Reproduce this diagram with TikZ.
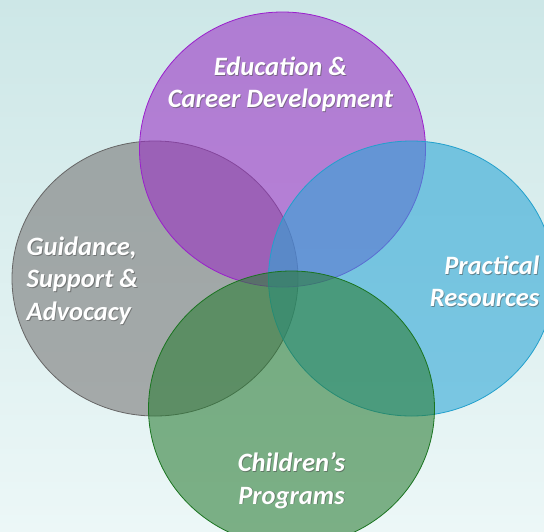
\documentclass[tikz,border=0pt]{standalone}
\usepackage{fontspec}
\setmainfont{Carlito}
\usetikzlibrary{shapes.geometric}
\definecolor{bgtop}{HTML}{CDE7E7}
\definecolor{bgbot}{HTML}{ECF7F7}
\definecolor{pfill}{HTML}{9A30C4}
\definecolor{pline}{HTML}{9A1FCC}
\definecolor{gfill}{HTML}{767474}
\definecolor{gline}{HTML}{666666}
\definecolor{bfill}{HTML}{2CA6D6}
\definecolor{bline}{HTML}{22A0CC}
\definecolor{nfill}{HTML}{2A7C34}
\definecolor{nline}{HTML}{1A7420}
\tikzset{
  venn/.style={ellipse, minimum width=286pt, minimum height=275pt, inner sep=0pt, line width=0.8pt, fill opacity=0.58, draw opacity=1},
  lbl/.style={font=\fontsize{26.5}{32.5}\selectfont\bfseries\itshape, text=white, inner sep=0pt},
  shd/.style={font=\fontsize{26.5}{32.5}\selectfont\bfseries\itshape, text=black!70, text opacity=0.55, inner sep=0pt},
}
\begin{document}
\begin{tikzpicture}[x=1pt,y=-1pt]
\useasboundingbox (0,0) rectangle (544,531);
\shade[top color=bgtop, bottom color=bgbot] (0,0) rectangle (544,531);
\clip (0,0) rectangle (544,531);
\node[venn, fill=gfill, draw=gline] (grey) at (155,278.5) {};
\node[venn, fill=pfill, draw=pline] (purple) at (282.5,149.5) {};
\node[venn, fill=bfill, draw=bline] (blue) at (411.5,278.5) {};
\node[venn, fill=nfill, draw=nline] (green) at (291.5,408.5) {};
% shadows
\node[shd, align=center] (t1s) at (281.3,85.3) {Education \&\\Career Development};
\node[shd, align=left, anchor=west] (t2s) at (27.3,281.3) {Guidance,\\Support \&\\Advocacy};
\node[shd, align=right, anchor=east] (t3s) at (540.3,282.3) {Practical\\Resources};
\node[shd, align=center] (t4s) at (292.3,481.3) {Children’s\\Programs};
% labels
\node[lbl, align=center] (t1) at (280.5,84.5) {Education \&\\Career Development};
\node[lbl, align=left, anchor=west] (t2) at (26.5,280.5) {Guidance,\\Support \&\\Advocacy};
\node[lbl, align=right, anchor=east] (t3) at (539.5,281.5) {Practical\\Resources};
\node[lbl, align=center] (t4) at (291.5,480.5) {Children’s\\Programs};
\end{tikzpicture}
\end{document}
